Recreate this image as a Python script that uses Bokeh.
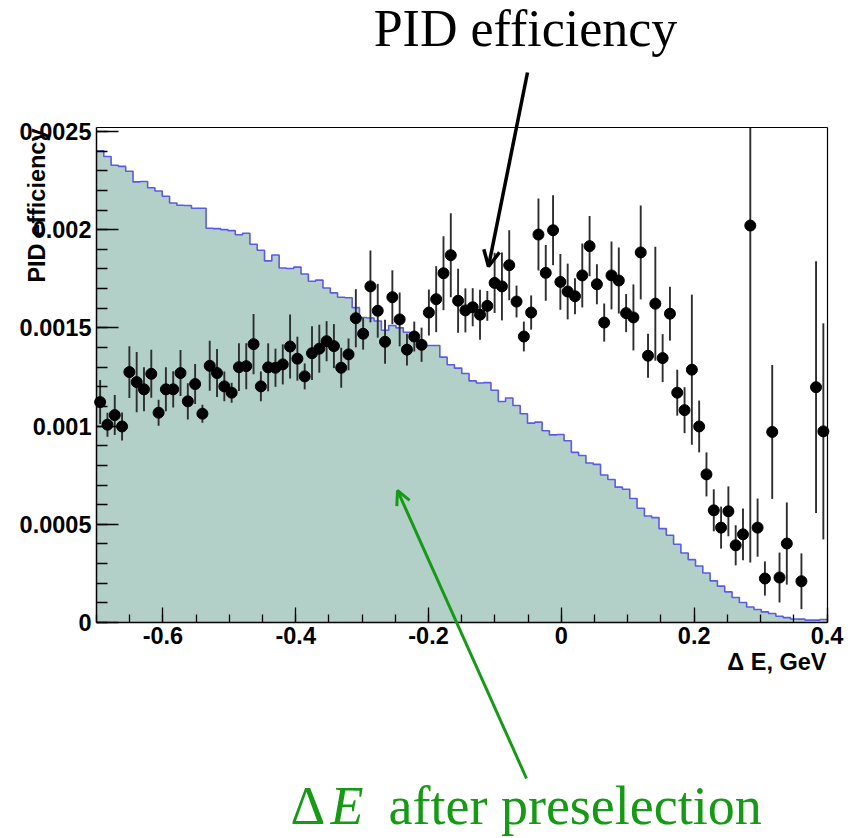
import numpy as np
from bokeh.plotting import figure
from bokeh.models import Range1d, FixedTicker, Label, Arrow, OpenHead, LinearAxis
from bokeh.embed import file_html
from bokeh.resources import INLINE

# ---------------- data ----------------
x_min, x_max = -0.7, 0.4
y_min, y_max = 0.0, 0.00252

# Delta E distribution after preselection (100 bins, normalised)
hist = [
    0.002402, 0.002372, 0.002328, 0.002322, 0.002297, 0.002243, 0.002245, 0.002213, 0.002197, 0.002170,
    0.002136, 0.002124, 0.002123, 0.002109, 0.002109, 0.002007, 0.002005, 0.002000, 0.001995, 0.001974,
    0.001982, 0.001926, 0.001895, 0.001841, 0.001871, 0.001805, 0.001802, 0.001809, 0.001774, 0.001737,
    0.001743, 0.001703, 0.001678, 0.001656, 0.001653, 0.001603, 0.001553, 0.001550, 0.001535, 0.001488,
    0.001512, 0.001500, 0.001478, 0.001458, 0.001425, 0.001410, 0.001410, 0.001351, 0.001312, 0.001295,
    0.001268, 0.001230, 0.001219, 0.001221, 0.001182, 0.001125, 0.001143, 0.001105, 0.001063, 0.001015,
    0.001020, 0.000976, 0.000955, 0.000957, 0.000925, 0.000866, 0.000850, 0.000812, 0.000805, 0.000751,
    0.000728, 0.000689, 0.000678, 0.000631, 0.000582, 0.000542, 0.000534, 0.000478, 0.000444, 0.000398,
    0.000354, 0.000320, 0.000288, 0.000252, 0.000212, 0.000185, 0.000156, 0.000127, 0.000102, 0.000079,
    0.000066, 0.000054, 0.000046, 0.000032, 0.000025, 0.000018, 0.000017, 0.000012, 0.000012, 0.000015,
]

# PID efficiency per bin (None = no entry)
eff = [
    0.001122, 0.001007, 0.001056, 0.000998, 0.001275, 0.001224, 0.001187, 0.001266, 0.001068, 0.001187,
    0.001187, 0.001270, 0.001126, 0.001214, 0.001063, 0.001307, 0.001270, 0.001202, 0.001170, 0.001300,
    0.001305, 0.001417, 0.001202, 0.001299, 0.001297, 0.001314, 0.001405, 0.001343, 0.001253, 0.001371,
    0.001394, 0.001432, 0.001407, 0.001297, 0.001365, 0.001549, 0.001470, 0.001711, 0.001587, 0.001429,
    0.001656, 0.001543, 0.001389, 0.001456, 0.001414, 0.001578, 0.001646, 0.001778, 0.001870, 0.001638,
    0.001589, 0.001605, 0.001567, 0.001612, 0.001729, 0.001711, 0.001819, 0.001634, 0.001456, 0.001578,
    0.001975, 0.001780, 0.001997, 0.001734, 0.001685, 0.001661, 0.001767, 0.001916, 0.001722, 0.001527,
    0.001767, 0.001741, 0.001575, 0.001553, 0.001884, 0.001358, 0.001623, 0.001346, 0.001572, 0.001170,
    0.001081, 0.001287, 0.000998, 0.000754, 0.000571, 0.000483, 0.000566, 0.000393, 0.000449, 0.002021,
    0.000483, 0.000224, 0.000970, 0.000229, 0.000402, None, 0.000210, None, 0.001198, 0.000973,
]

eff_err = [
    0.000112, 0.000061, 0.000102, 0.000071, 0.000132, 0.000153, 0.000112, 0.000122, 0.000066, 0.000112,
    0.000092, 0.000117, 0.000092, 0.000102, 0.000046, 0.000127, 0.000122, 0.000076, 0.000051, 0.000122,
    0.000117, 0.000153, 0.000076, 0.000122, 0.000097, 0.000102, 0.000163, 0.000112, 0.000066, 0.000137,
    0.000122, 0.000102, 0.000112, 0.000102, 0.000081, 0.000148, 0.000081, 0.000183, 0.000137, 0.000112,
    0.000137, 0.000137, 0.000081, 0.000076, 0.000087, 0.000117, 0.000168, 0.000188, 0.000214, 0.000163,
    0.000112, 0.000097, 0.000127, 0.000076, 0.000153, 0.000173, 0.000178, 0.000081, 0.000076, 0.000087,
    0.000183, 0.000142, 0.000178, 0.000142, 0.000142, 0.000092, 0.000163, 0.000153, 0.000102, 0.000097,
    0.000173, 0.000168, 0.000097, 0.000168, 0.000239, 0.000112, 0.000290, 0.000122, 0.000137, 0.000117,
    0.000117, 0.000382, 0.000132, 0.000112, 0.000107, 0.000107, 0.000127, 0.000102, 0.000132, 0.001715,
    0.000148, 0.000087, 0.000341, 0.000127, 0.000209, None, 0.000142, None, 0.000641, 0.000550,
]

x_major = [-0.6, -0.4, -0.2, 0.0, 0.2, 0.4]
x_major_labels = ["-0.6", "-0.4", "-0.2", "0", "0.2", "0.4"]
y_major = [0.0, 0.0005, 0.001, 0.0015, 0.002, 0.0025]
y_major_labels = ["0", "0.0005", "0.001", "0.0015", "0.002", "0.0025"]

# ---------------- derived ----------------
n_bins = len(hist)
edges = np.linspace(x_min, x_max, n_bins + 1)
centers = 0.5 * (edges[:-1] + edges[1:])
mask = np.array([v is not None for v in eff])
px = centers[mask]
py = np.array([v for v in eff if v is not None])
pe = np.array([v for v in eff_err if v is not None])
hist_ext = list(hist) + [hist[-1]]
err_lo = np.maximum(py - pe, y_min)
err_hi = np.minimum(py + pe, y_max)

# ---------------- layout geometry (pixels) ----------------
W, H = 858, 838
box_l, box_r, box_t, box_b = 96.0, 826.5, 127.0, 622.0
sx = (x_max - x_min) / (box_r - box_l)
sy = (y_max - y_min) / (box_b - box_t)
view_x0 = x_min - box_l * sx
view_x1 = x_min + (W - box_l) * sx
view_y0 = y_min - (H - box_b) * sy
view_y1 = y_max + box_t * sy
BASE_CORR = 0.38  # rendered alphabetic baseline sits ~0.38 em lower than the anchor


def X(pxl):
    return view_x0 + pxl * sx


def Y(pyl):
    return view_y1 - pyl * sy


p = figure(width=W, height=H, title=None,
           x_range=Range1d(view_x0, view_x1), y_range=Range1d(view_y0, view_y1),
           output_backend="svg", toolbar_location=None,
           x_axis_location=None, y_axis_location=None,
           min_border_left=0, min_border_right=0, min_border_top=0, min_border_bottom=0)

p.background_fill_color = "white"
p.border_fill_color = "white"
p.outline_line_color = None
p.xgrid.visible = False
p.ygrid.visible = False

p.varea_step(x=edges, y1=0, y2=hist_ext, step_mode="after", fill_color="#b2d0c8")
p.step(x=edges, y=hist_ext, mode="after", line_color="#5b5be4", line_width=1.6)

p.segment(x0=px, y0=err_lo, x1=px, y1=err_hi, line_color="#2e2e2e", line_width=1.9)
p.scatter(px, py, size=11, marker="circle", fill_color="black", line_color="black")

# ---------------- axes ----------------
lab_font = "Liberation Sans"
lab_size = 23.5


def style(ax):
    ax.axis_line_color = "black"
    ax.axis_line_width = 1.5
    ax.major_tick_line_color = "black"
    ax.minor_tick_line_color = "black"
    ax.major_tick_line_width = 1.3
    ax.minor_tick_line_width = 1.3
    ax.major_tick_out = 0
    ax.minor_tick_out = 0
    ax.major_label_text_font = lab_font
    ax.major_label_text_font_style = "bold"
    ax.major_label_text_font_size = f"{lab_size}px"
    ax.major_label_text_color = "black"


xaxis = LinearAxis(fixed_location=y_min, bounds=(x_min, x_max),
                   ticker=FixedTicker(ticks=x_major,
                                      minor_ticks=list(np.round(np.arange(-0.70, 0.401, 0.05), 3))))
style(xaxis)
xaxis.major_label_overrides = dict(zip(x_major, x_major_labels))
xaxis.major_tick_in = 15
xaxis.minor_tick_in = 8
xaxis.major_label_standoff = 4
p.add_layout(xaxis, "below")

yaxis = LinearAxis(fixed_location=x_min, bounds=(y_min, y_max),
                   ticker=FixedTicker(ticks=y_major,
                                      minor_ticks=list(np.round(np.arange(0, 0.00251, 0.0001), 5))))
style(yaxis)
yaxis.major_label_overrides = dict(zip(y_major, y_major_labels))
yaxis.major_tick_in = 22
yaxis.minor_tick_in = 11
yaxis.major_label_standoff = 5
p.add_layout(yaxis, "left")

# closing lines of the frame box
top_axis = LinearAxis(fixed_location=y_max, bounds=(x_min, x_max), ticker=FixedTicker(ticks=[]),
                      axis_line_color="black", axis_line_width=1.2,
                      major_tick_in=0, major_tick_out=0, minor_tick_in=0, minor_tick_out=0,
                      major_label_text_font_size="0px")
p.add_layout(top_axis, "above")
right_axis = LinearAxis(fixed_location=x_max, bounds=(y_min, y_max), ticker=FixedTicker(ticks=[]),
                        axis_line_color="black", axis_line_width=1.2,
                        major_tick_in=0, major_tick_out=0, minor_tick_in=0, minor_tick_out=0,
                        major_label_text_font_size="0px")
p.add_layout(right_axis, "right")

# ---------------- axis titles ----------------
p.add_layout(Label(x=X(45 - BASE_CORR * lab_size), y=Y(128), text="PID efficiency", angle=np.pi / 2,
                   text_align="right", text_baseline="alphabetic",
                   text_font=lab_font, text_font_style="bold", text_font_size=f"{lab_size}px",
                   text_color="black"))
p.add_layout(Label(x=X(826), y=Y(670 - BASE_CORR * lab_size), text="\u0394 E, GeV",
                   text_align="right", text_baseline="alphabetic",
                   text_font=lab_font, text_font_style="bold", text_font_size=f"{lab_size}px",
                   text_color="black"))

# ---------------- annotations ----------------
serif = "Liberation Serif"
top_size = 52
p.add_layout(Label(x=X(525), y=Y(48 - BASE_CORR * top_size), text="PID efficiency", text_align="center",
                   text_baseline="alphabetic", text_font=serif, text_font_size=f"{top_size}px",
                   text_color="black"))
p.add_layout(Arrow(x_start=X(527), y_start=Y(72), x_end=X(488), y_end=Y(266),
                   line_color="black", line_width=3.5,
                   end=OpenHead(size=16, line_width=3.5, line_color="black")))

green = "#169a16"
g_size = 54
base_g = Y(826 - BASE_CORR * g_size)
p.add_layout(Label(x=X(290), y=base_g, text="\u0394", text_align="left",
                   text_baseline="alphabetic", text_font=serif, text_font_size=f"{g_size}px",
                   text_color=green))
p.add_layout(Label(x=X(330), y=base_g, text="E", text_align="left",
                   text_baseline="alphabetic", text_font=serif, text_font_size=f"{g_size}px",
                   text_font_style="italic", text_color=green))
p.add_layout(Label(x=X(388), y=base_g, text="after preselection", text_align="left",
                   text_baseline="alphabetic", text_font=serif, text_font_size=f"{g_size}px",
                   text_color=green))
p.add_layout(Arrow(x_start=X(526), y_start=Y(778), x_end=X(397), y_end=Y(490),
                   line_color=green, line_width=3,
                   end=OpenHead(size=14, line_width=3, line_color=green)))

open("out.html", "w").write(file_html(p, INLINE))
